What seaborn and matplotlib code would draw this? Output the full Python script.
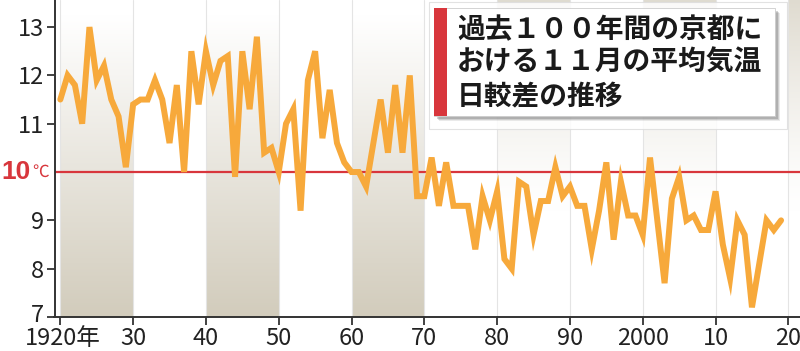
import numpy as np
import pandas as pd
import matplotlib
matplotlib.use("Agg")
import matplotlib.pyplot as plt
import matplotlib.transforms as mtransforms
from matplotlib.patches import Rectangle
import seaborn as sns

years = list(range(1920, 2020))
values = [
    11.5, 12.0, 11.8, 11.0, 13.0, 11.9, 12.2, 11.5, 11.15, 10.1,
    11.4, 11.5, 11.5, 11.9, 11.5, 10.6, 11.8, 10.0, 12.5, 11.4,
    12.5, 11.8, 12.3, 12.4, 9.9, 12.5, 11.3, 12.8, 10.4, 10.5,
    10.0, 11.0, 11.3, 9.2, 11.9, 12.5, 10.7, 11.7, 10.6, 10.2,
    10.0, 10.0, 9.7, 10.6, 11.5, 10.4, 11.8, 10.4, 12.0, 9.5,
    9.5, 10.3, 9.3, 10.2, 9.3, 9.3, 9.3, 8.4, 9.5, 9.0,
    9.6, 8.2, 8.0, 9.8, 9.7, 8.7, 9.4, 9.4, 10.1, 9.5,
    9.7, 9.3, 9.3, 8.4, 9.2, 10.2, 8.6, 9.8, 9.1, 9.1,
    8.7, 10.3, 9.0, 7.7, 9.45, 9.9, 9.0, 9.1, 8.8, 8.8,
    9.6, 8.5, 7.8, 9.0, 8.7, 7.2, 8.1, 9.0, 8.8, 9.0,
]
x_ticks = [1920, 1930, 1940, 1950, 1960, 1970, 1980, 1990, 2000, 2010, 2020]
x_labels = ["1920年", "30", "40", "50", "60", "70", "80", "90", "2000", "10", "20"]
y_ticks = [7, 8, 9, 11, 12, 13]
y_labels = ["7", "8", "9", "11", "12", "13"]
ref_value = 10
title_lines = ["過去１００年間の京都に", "おける１１月の平均気温", "日較差の推移"]

sns.set_style("white")
plt.rcParams["font.family"] = ["Liberation Sans Narrow", "Noto Sans CJK JP", "DejaVu Sans"]

df = pd.DataFrame({"year": years, "value": values})

fig = plt.figure(figsize=(8.0, 3.51), dpi=100)
ax = fig.add_axes([54.5 / 800, 34 / 351, 1 - 54.5 / 800, 1 - 34 / 351])
xmin, xmax = 1919.2, 2021.6
ymin, ymax = 7.0, 13.56
ax.set_xlim(xmin, xmax)
ax.set_ylim(ymin, ymax)

# gradient bands
beige = np.array([210, 204, 188]) / 255.0
white = np.array([1.0, 1.0, 1.0])
t = np.linspace(0, 1, 256)[:, None]  # 0 = top row of image
up = np.clip((t - 0.05) / 0.95, 0, 1) ** 1.0
grad_low = white * (1 - up) + beige * up
grad_low = grad_low[:, None, :]
down = np.clip(1 - t * 1.5, 0, 1) ** 1.3 * 0.7
grad_high = white * (1 - down) + beige * down
grad_high = grad_high[:, None, :]
for x0 in [1920, 1940, 1960]:
    ax.imshow(grad_low, extent=[x0, x0 + 10, ymin, ymax], aspect="auto",
              origin="upper", zorder=0, interpolation="bilinear")
for x0 in [1980, 2000, 2020]:
    ax.imshow(grad_high, extent=[x0, x0 + 10, ymin, ymax], aspect="auto",
              origin="upper", zorder=0, interpolation="bilinear")
ax.set_xlim(xmin, xmax)
ax.set_ylim(ymin, ymax)

for xv in x_ticks:
    ax.axvline(xv, color="#e4e4e4", lw=0.8, zorder=0.5)

ax.axhline(ref_value, color="#d8363c", lw=1.6, zorder=2)

sns.lineplot(data=df, x="year", y="value", ax=ax, color="#f7a93b", lw=4.3,
             zorder=3, solid_joinstyle="miter")

ax.set_xlabel("")
ax.set_ylabel("")
ax.set_xticks(x_ticks)
ax.set_xticklabels(x_labels, fontsize=17, color="#222222")
ax.set_yticks(y_ticks)
ax.set_yticklabels(y_labels, fontsize=17, color="#222222")
ax.tick_params(axis="both", which="both", direction="out", length=5.5, width=1.3,
               color="#333333", left=True, bottom=True, pad=2)
ax.tick_params(axis="x", pad=2)
for s in ["top", "right"]:
    ax.spines[s].set_visible(False)
for s in ["left", "bottom"]:
    ax.spines[s].set_color("#333333")
    ax.spines[s].set_linewidth(1.4)

# nudge the lowest y label up a little so it clears the year label
ylbl0 = ax.get_yticklabels()[0]
ylbl0.set_transform(ylbl0.get_transform() + mtransforms.ScaledTranslation(0, 4 / 100, fig.dpi_scale_trans))
xlbl0 = ax.get_xticklabels()[0]
xlbl0.set_transform(xlbl0.get_transform() + mtransforms.ScaledTranslation(2 / 100, 0, fig.dpi_scale_trans))

# 10℃ label
trans = mtransforms.blended_transform_factory(fig.transFigure, ax.transData)
ax.text(1 / 800, ref_value, "10", transform=trans, fontsize=19, fontweight="bold",
        color="#d8363c", ha="left", va="center",
        family=["Liberation Sans", "DejaVu Sans"])
ax.text(32 / 800, ref_value, "℃", transform=trans, fontsize=12,
        color="#d8363c", ha="left", va="center", family=["Noto Sans CJK JP", "DejaVu Sans"])

# title box
def fx(px):
    return px / 800

def fy(py):
    return 1 - py / 351

fig.patches.append(Rectangle((fx(429), fy(129)), fx(787) - fx(429), fy(2) - fy(129),
                             transform=fig.transFigure, facecolor="white",
                             edgecolor="#dddddd", lw=0.8, zorder=5, alpha=0.85))
for d, a in [(5, 0.12), (4, 0.18), (3, 0.25)]:
    fig.patches.append(Rectangle((fx(434 + d), fy(116 + d)), fx(775) - fx(434), fy(8) - fy(116),
                                 transform=fig.transFigure, facecolor="#555555",
                                 edgecolor="none", zorder=6, alpha=a))
fig.patches.append(Rectangle((fx(434), fy(116)), fx(775) - fx(434), fy(8) - fy(116),
                             transform=fig.transFigure, facecolor="white",
                             edgecolor="#cccccc", lw=0.6, zorder=7))
fig.patches.append(Rectangle((fx(434), fy(116)), fx(447) - fx(434), fy(8) - fy(116),
                             transform=fig.transFigure, facecolor="#d8363c",
                             edgecolor="none", zorder=8))
for i, line in enumerate(title_lines):
    fig.text(fx(457), fy(30 + 33 * i), line, fontsize=20, color="#1a1a1a",
             ha="left", va="center", zorder=9, fontweight="bold",
             family=["Noto Sans CJK JP", "DejaVu Sans"])

fig.savefig("out.png", dpi=100)
